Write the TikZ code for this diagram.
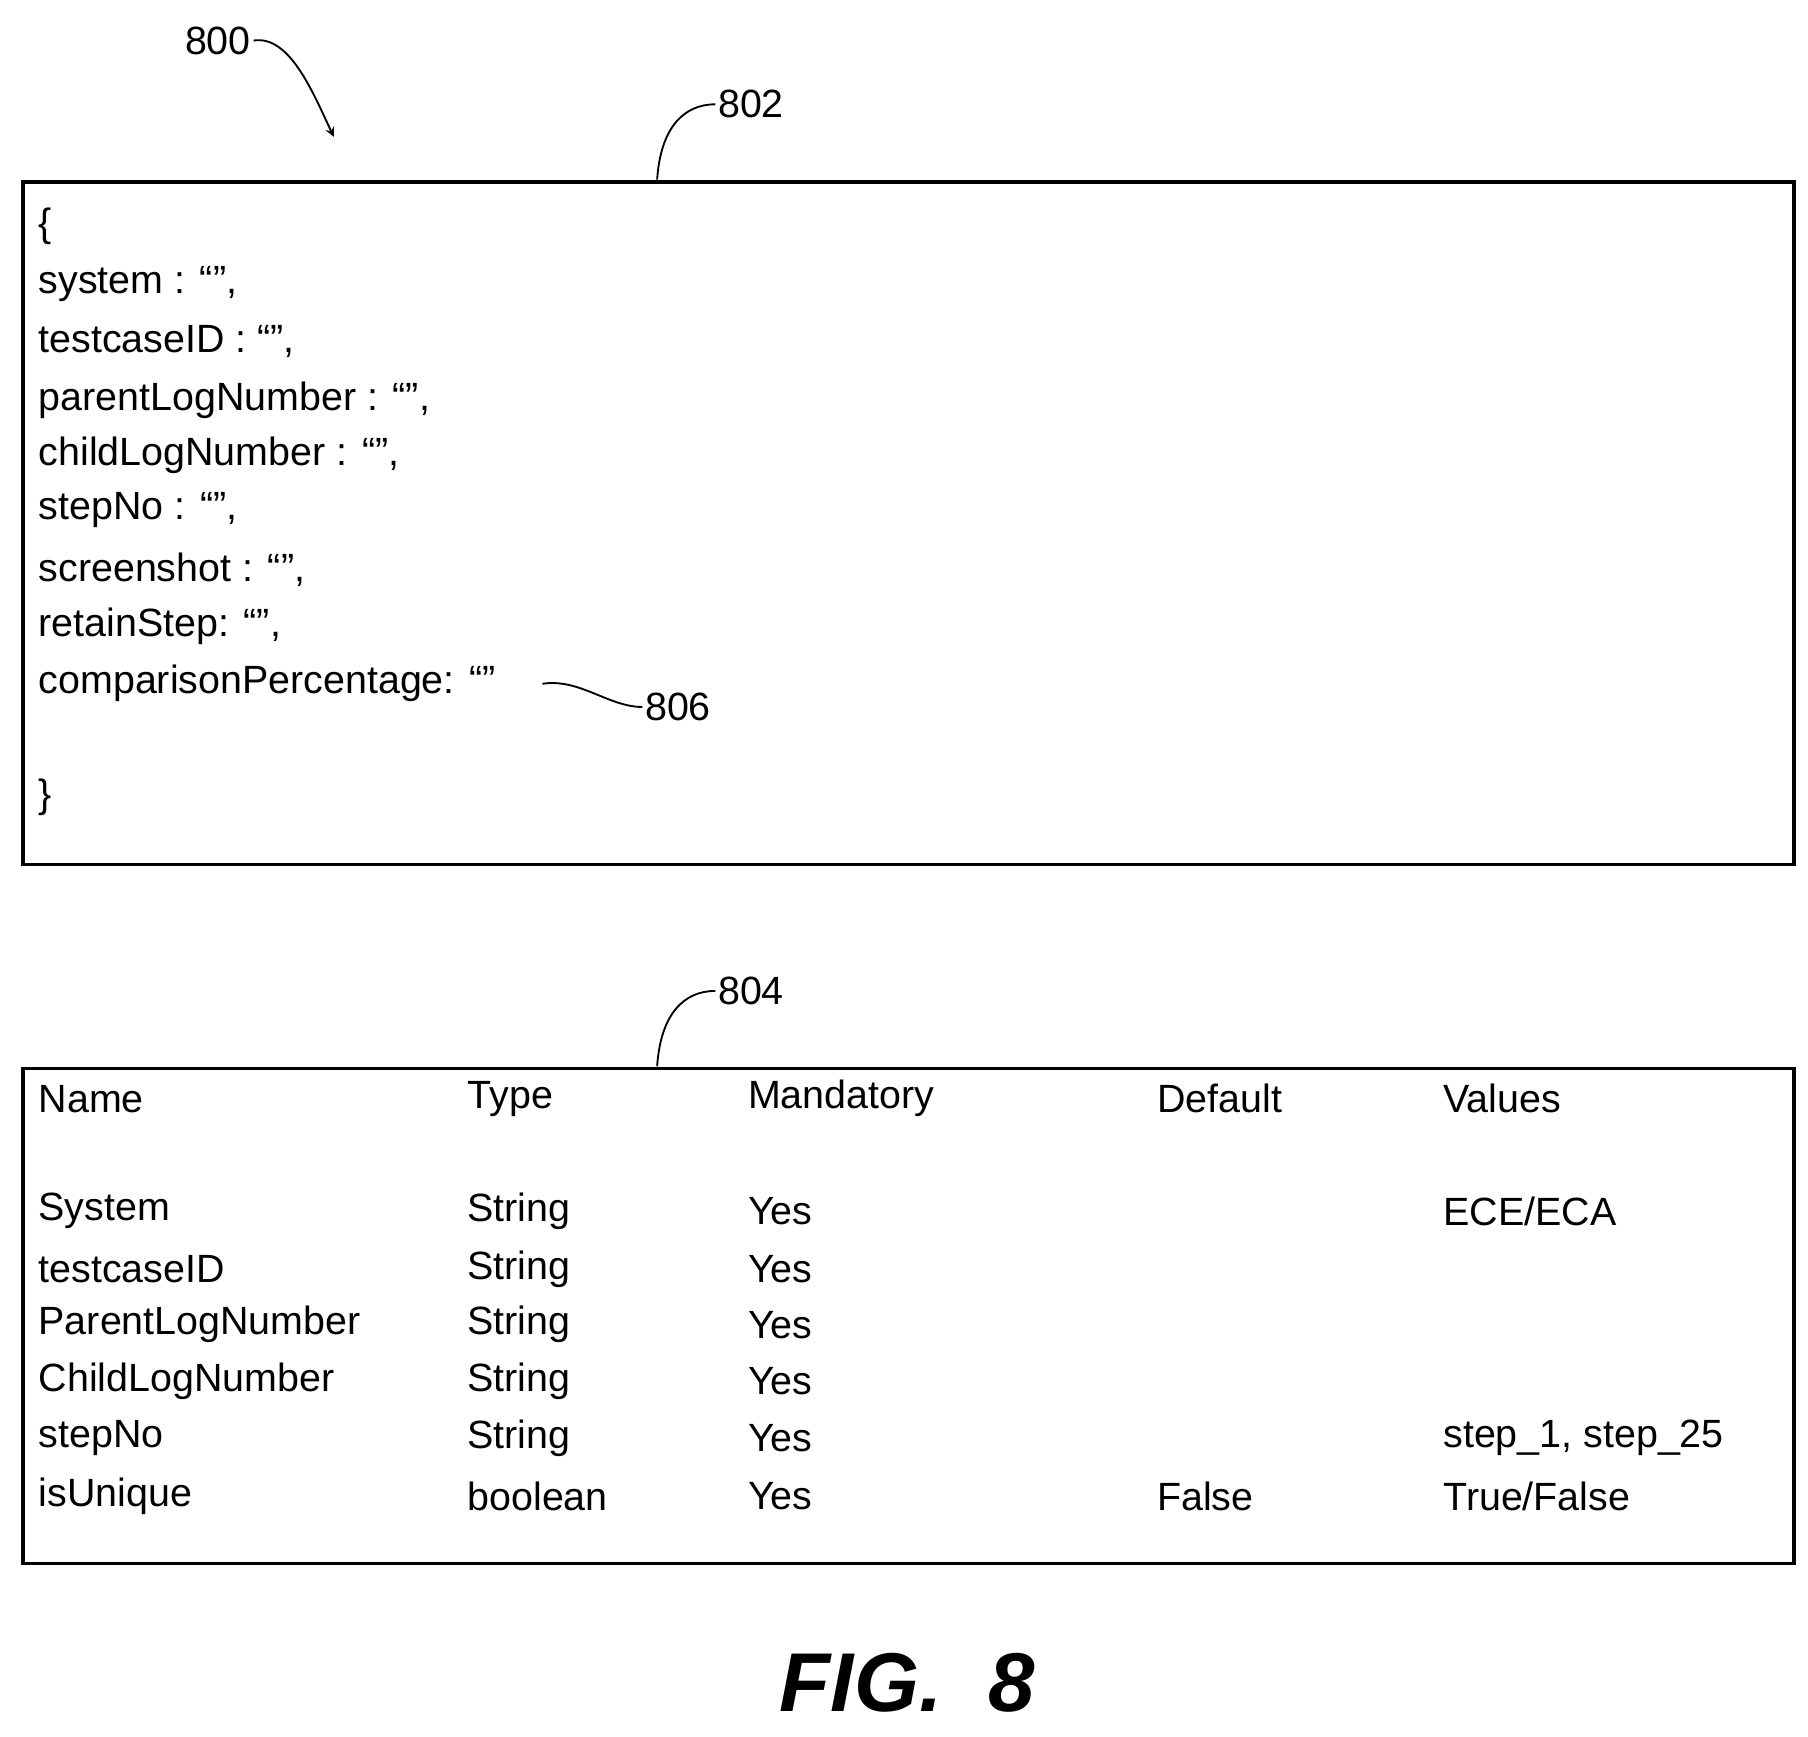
\documentclass[tikz,border=0pt]{standalone}
\usepackage{fontspec}
\setmainfont{Liberation Sans}
\begin{document}
\begin{tikzpicture}[x=0.5pt,y=-0.5pt,
  t/.style={anchor=west,inner sep=0pt,font=\fontsize{17}{20}\selectfont},
  box/.style={draw,line width=1.6pt},
  lead/.style={line width=0.8pt},
  lab/.style={inner sep=1pt,font=\fontsize{17}{20}\selectfont}]
\useasboundingbox (0,0) rectangle (1560,1498);
\draw[box] (20,157) rectangle (1548,746);
\node[inner sep=0pt] (b1) at (784,451) {};
\draw[box] (20,922) rectangle (1548,1349);
\node[inner sep=0pt] (b2) at (784,1135) {};
\foreach \s/\y [count=\i] in {\{/195,{system : ``'',}/245,{testcaseID : ``'',}/295,{parentLogNumber : ``'',}/345,{childLogNumber : ``'',}/393,{stepNo : ``'',}/440,{screenshot : ``'',}/492,{retainStep: ``'',}/540,{comparisonPercentage: ``''}/590,\}/688}
  \node[t] (l\i) at (33,\y) {\s};
\foreach \x/\n in {33/Name,403/Type,645/Mandatory,998/Default,1245/Values}
  \node[t] (h\n) at (\x,948) {\n};
\foreach \a/\b/\c/\d/\e/\y [count=\i] in {System/String/Yes//ECE\slash ECA/1045,testcaseID/String/Yes///1095,ParentLogNumber/String/Yes///1143,ChildLogNumber/String/Yes///1192,stepNo/String/Yes//{step\_1, step\_25}/1241,isUnique/boolean/Yes/False/True\slash False/1291}{
  \node[t] (r\i a) at (33,\y) {\a};
  \node[t] (r\i b) at (403,\y) {\b};
  \node[t] (r\i c) at (645,\y) {\c};
  \node[t] (r\i d) at (998,\y) {\d};
  \node[t] (r\i e) at (1245,\y) {\e};}
\node[lab] (n800) at (188,35) {800};
\coordinate (a800) at (288,118);
\draw[lead,-stealth] (n800.east) .. controls (250,30) and (270,80) .. (a800);
\node[lab] (n802) at (648,90) {802};
\coordinate (c802) at (567,155);
\draw[lead] (c802) .. controls (570,110) and (590,90) .. (n802.west);
\node[lab] (n804) at (648,855) {804};
\coordinate (c804) at (567,920);
\draw[lead] (c804) .. controls (570,875) and (590,855) .. (n804.west);
\node[lab] (n806) at (585,610) {806};
\coordinate (c806) at (468,590);
\draw[lead] (c806) .. controls (500,585) and (525,610) .. (n806.west);
\node[inner sep=0pt,font=\fontsize{36}{40}\selectfont\bfseries\itshape] (fig) at (783,1452) {FIG.~~8};
\end{tikzpicture}
\end{document}
